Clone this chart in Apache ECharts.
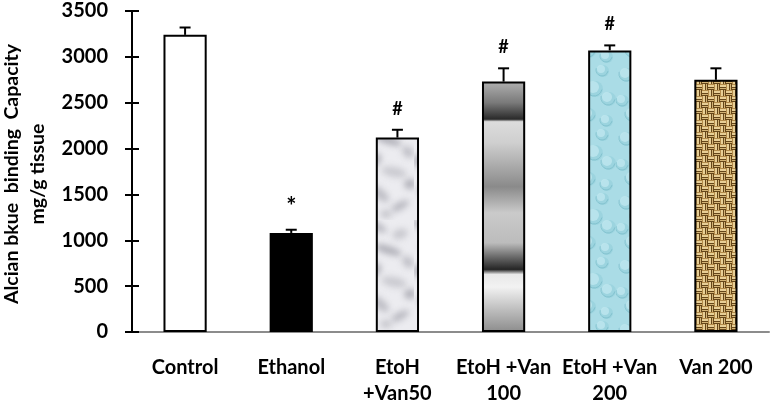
<!DOCTYPE html>
<html>
<head>
<meta charset="utf-8">
<script src="https://cdn.jsdelivr.net/npm/echarts@6/dist/echarts.min.js"></script>
<style>
html,body{margin:0;padding:0;background:#fff;}
#chart{width:771px;height:403px;}
</style>
</head>
<body>
<div id="chart"></div>
<script>
// ---- data ----
var categories = ['Control', 'Ethanol', 'EtoH\n+Van50', 'EtoH +Van\n100', 'EtoH +Van\n200', 'Van 200'];
var means = [3240, 1080, 2120, 2730, 3070, 2750];
var errors = [80, 35, 85, 145, 55, 125];
var marks = ['', '*', '#', '#', '#', ''];
var yTicks = [0, 500, 1000, 1500, 2000, 2500, 3000, 3500];

var FONT = 'Lato';

// ---- textures (style only) ----
function makeMarble() {
  var c = document.createElement('canvas'); c.width = 46; c.height = 110;
  var g = c.getContext('2d');
  g.fillStyle = '#ececf0'; g.fillRect(0, 0, 46, 110);
  g.filter = 'blur(3px)';
  var blobs = [[8,6,12,4,0.5,'#b8b8c0'],[32,14,8,5,-0.3,'#c8c8ce'],[20,30,14,4,0.3,'#aeaeb6'],
               [40,42,7,5,0.8,'#c0c0c7'],[6,50,8,6,-0.6,'#b4b4bc'],[26,62,13,5,0.2,'#cacad0'],
               [42,74,6,5,-0.2,'#b0b0b8'],[12,84,11,5,0.7,'#bebec5'],[32,96,10,4,-0.5,'#b8b8c0'],
               [18,104,6,4,0.1,'#c4c4ca']];
  blobs.forEach(function (b) {
    g.save(); g.translate(b[0], b[1]); g.rotate(b[4]);
    g.fillStyle = b[5]; g.beginPath(); g.ellipse(0, 0, b[2], b[3], 0, 0, Math.PI * 2); g.fill();
    g.restore();
  });
  return c;
}
function makeWater() {
  var c = document.createElement('canvas'); c.width = 44; c.height = 64;
  var g = c.getContext('2d');
  g.fillStyle = '#aadce6'; g.fillRect(0, 0, 44, 64);
  var drops = [[10,10,7],[30,6,6],[22,24,8],[6,36,6],[36,34,7],[16,50,7],[34,56,6]];
  g.filter = 'blur(0.6px)';
  drops.forEach(function (d) {
    g.fillStyle = 'rgba(150,208,220,0.7)';
    g.beginPath(); g.arc(d[0] + 1, d[1] + 1, d[2], 0, Math.PI * 2); g.fill();
    g.fillStyle = 'rgba(196,234,241,0.7)';
    g.beginPath(); g.arc(d[0] - 1, d[1] - 1, d[2] - 2, 0, Math.PI * 2); g.fill();
    g.strokeStyle = 'rgba(120,186,200,0.7)'; g.lineWidth = 1;
    g.beginPath(); g.arc(d[0], d[1], d[2], 0.2, Math.PI * 1.1); g.stroke();
  });
  return c;
}
function makeBurlap() {
  var c = document.createElement('canvas'); c.width = 12; c.height = 12;
  var g = c.getContext('2d');
  g.fillStyle = '#b38b4a'; g.fillRect(0, 0, 12, 12);
  for (var i = 0; i < 2; i++) for (var j = 0; j < 2; j++) {
    var x0 = i * 6, y0 = j * 6;
    if ((i + j) % 2 === 0) {
      g.fillStyle = '#e8cf96'; g.fillRect(x0, y0 + 1, 6, 2);
      g.fillStyle = '#d4b475'; g.fillRect(x0, y0 + 4, 6, 1);
      g.fillStyle = '#654619'; g.fillRect(x0, y0 + 3, 6, 1); g.fillRect(x0, y0 + 5, 6, 1);
    } else {
      g.fillStyle = '#e8cf96'; g.fillRect(x0 + 1, y0, 2, 6);
      g.fillStyle = '#d4b475'; g.fillRect(x0 + 4, y0, 1, 6);
      g.fillStyle = '#654619'; g.fillRect(x0 + 3, y0, 1, 6); g.fillRect(x0 + 5, y0, 1, 6);
    }
  }
  return c;
}
var metalGradient = {
  type: 'linear', x: 0, y: 0, x2: 0, y2: 1,
  colorStops: [
    {offset: 0, color: '#b0b0b0'}, {offset: 0.084, color: '#7a7a7a'}, {offset: 0.15, color: '#2a2a2a'},
    {offset: 0.16, color: '#dcdcdc'}, {offset: 0.244, color: '#cfcfcf'}, {offset: 0.42, color: '#8a8a8a'},
    {offset: 0.524, color: '#cacaca'}, {offset: 0.644, color: '#bcbcbc'}, {offset: 0.70, color: '#6a6a6a'},
    {offset: 0.75, color: '#252525'}, {offset: 0.77, color: '#e8e8e8'}, {offset: 0.82, color: '#f2f2f2'},
    {offset: 0.912, color: '#bdbdbd'}, {offset: 1, color: '#8c8c8c'}
  ]
};
var fills = [
  '#ffffff', '#000000',
  {image: makeMarble(), repeat: 'repeat'},
  metalGradient,
  {image: makeWater(), repeat: 'repeat'},
  {image: makeBurlap(), repeat: 'repeat'}
];

var barData = means.map(function (v, i) {
  return {value: v, itemStyle: {color: fills[i]}};
});
var errData = means.map(function (v, i) { return [i, v, errors[i], marks[i]]; });

var yAxisBase = {
  type: 'value', min: yTicks[0], max: yTicks[yTicks.length - 1], interval: 500,
  splitLine: {show: false}
};

var chart = echarts.init(document.getElementById('chart'));
chart.setOption({
  animation: false,
  grid: {left: 132, right: 2, top: 11, bottom: 71, containLabel: false, outerBoundsMode: 'none'},
  xAxis: {
    type: 'category', data: categories,
    axisLine: {lineStyle: {color: '#8c8c8c', width: 2}},
    axisTick: {show: false},
    axisLabel: {color: '#000', fontFamily: FONT, fontWeight: 'bold', fontSize: 20, lineHeight: 26, margin: 23, interval: 0}
  },
  yAxis: [
    Object.assign({}, yAxisBase, {
      axisLine: {show: true, lineStyle: {color: '#000', width: 2}},
      axisTick: {show: true, length: 7, lineStyle: {color: '#000', width: 2}},
      axisLabel: {color: '#000', fontFamily: FONT, fontWeight: 'bold', fontSize: 20, margin: 24,
        formatter: function (v) { return String(v); }}
    }),
    Object.assign({}, yAxisBase, {
      position: 'left',
      axisLine: {show: false},
      axisTick: {show: true, inside: true, length: 7, lineStyle: {color: '#000', width: 2}},
      axisLabel: {show: false}
    })
  ],
  graphic: [{
    type: 'text', x: 25, y: 174, rotation: Math.PI / 2,
    style: {
      text: 'Alcian bkue  binding  Capacity\nmg/g tissue',
      fontFamily: FONT, fontWeight: 'bold', fontSize: 19.5, lineHeight: 26,
      fill: '#000', align: 'center', verticalAlign: 'middle'
    }
  }],
  series: [
    {
      type: 'bar', data: barData, barWidth: '40.7%',
      itemStyle: {borderColor: '#000', borderWidth: 2}
    },
    {
      type: 'custom', data: errData, z: 5,
      renderItem: function (params, api) {
        var x = api.value(0), v = api.value(1), e = api.value(2);
        var mark = errData[params.dataIndex][3];
        var p0 = api.coord([x, v]);
        var p1 = api.coord([x, v + e]);
        var half = 5.5;
        var children = [
          {type: 'line', shape: {x1: p0[0], y1: p0[1], x2: p1[0], y2: p1[1]}, style: {stroke: '#000', lineWidth: 2}},
          {type: 'line', shape: {x1: p1[0] - half, y1: p1[1], x2: p1[0] + half, y2: p1[1]}, style: {stroke: '#000', lineWidth: 2}}
        ];
        if (mark) {
          var star = mark === '*';
          children.push({type: 'text', x: p1[0], y: p1[1] - (star ? 22 : 21), style: {
            text: mark, fontFamily: FONT, fontWeight: 'bold', fontSize: star ? 24 : 18, fill: '#000',
            align: 'center', verticalAlign: 'middle'
          }});
        }
        return {type: 'group', children: children};
      }
    }
  ]
});
</script>
</body>
</html>
